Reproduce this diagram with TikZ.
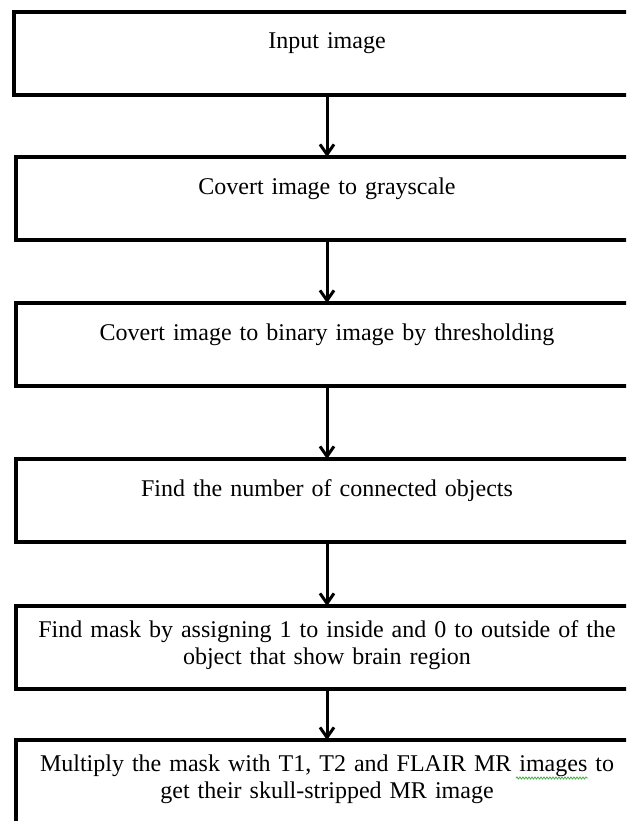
\documentclass[tikz,border=0pt]{standalone}
\usepackage{fontspec}
\setmainfont{Liberation Serif}
\usepackage{xcolor}
\usetikzlibrary{arrows.meta,positioning,decorations.pathmorphing}
\definecolor{spellgreen}{RGB}{70,170,70}

\begin{document}
\begin{tikzpicture}[x=1pt, y=-1pt,
  stage/.style={draw, line width=3.5pt, inner sep=0pt, outer sep=0pt,
    text width=622pt, align=center, font=\fontsize{24}{27.5}\selectfont},
  oneline/.style={text height=37pt, text depth=46pt},
  twoline/.style={text height=31pt, text depth=52pt}]

\useasboundingbox (0,0) rectangle (626,821);
\clip (0,0) rectangle (626,821);

\node[stage, oneline, text width=626pt] (inp) at (327,53.5) {Input image};
\node[stage, oneline, below=62pt of inp] (gray) {Covert image to grayscale};
\node[stage, oneline, below=63pt of gray] (bin) {Covert image to binary image by thresholding};
\node[stage, oneline, below=73pt of bin] (conn) {Find the number of connected objects};
\node[stage, twoline, below=64pt of conn] (mask)
  {Find mask by assigning 1 to inside and 0 to outside of the\\ object that show brain region};
\node[stage, twoline, below=51pt of mask] (mult)
  {Multiply the mask with T1, T2 and FLAIR MR images to\\ get their skull-stripped MR image};

\foreach \a/\b in {inp/gray, gray/bin, bin/conn, conn/mask, mask/mult}
{
  \draw[line width=3pt, -{Straight Barb[length=10pt, width=14pt]}] (\a.south) -- (\b.north);
}

% spell-check underline
\draw[spellgreen, line width=0.8pt, decorate,
  decoration={snake, amplitude=1pt, segment length=3pt}] (516,778) -- (588,778);

\end{tikzpicture}
\end{document}
